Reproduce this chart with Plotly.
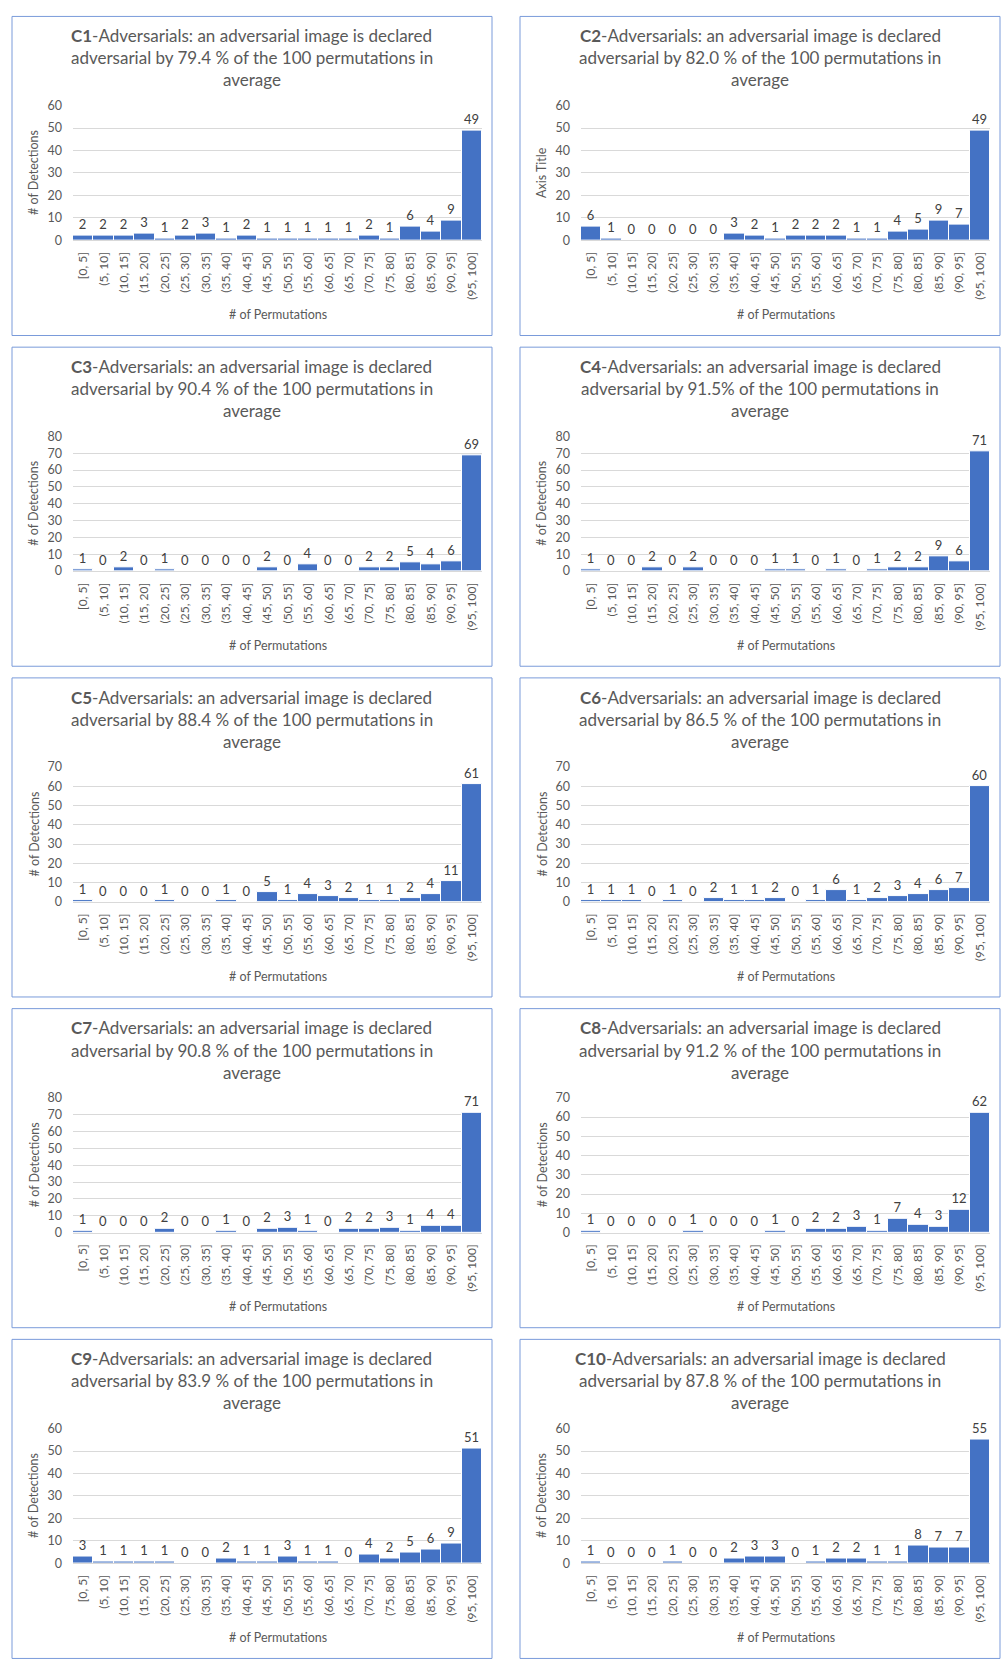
import plotly.graph_objects as go

categories = ["[0, 5]", "(5, 10]", "(10, 15]", "(15, 20]", "(20, 25]", "(25, 30]", "(30, 35]",
              "(35, 40]", "(40, 45]", "(45, 50]", "(50, 55]", "(55, 60]", "(60, 65]", "(65, 70]",
              "(70, 75]", "(75, 80]", "(80, 85]", "(85, 90]", "(90, 95]", "(95, 100]"]

c1 = [2, 2, 2, 3, 1, 2, 3, 1, 2, 1, 1, 1, 1, 1, 2, 1, 6, 4, 9, 49]
c2 = [6, 1, 0, 0, 0, 0, 0, 3, 2, 1, 2, 2, 2, 1, 1, 4, 5, 9, 7, 49]
c3 = [1, 0, 2, 0, 1, 0, 0, 0, 0, 2, 0, 4, 0, 0, 2, 2, 5, 4, 6, 69]
c4 = [1, 0, 0, 2, 0, 2, 0, 0, 0, 1, 1, 0, 1, 0, 1, 2, 2, 9, 6, 71]
c5 = [1, 0, 0, 0, 1, 0, 0, 1, 0, 5, 1, 4, 3, 2, 1, 1, 2, 4, 11, 61]
c6 = [1, 1, 1, 0, 1, 0, 2, 1, 1, 2, 0, 1, 6, 1, 2, 3, 4, 6, 7, 60]
c7 = [1, 0, 0, 0, 2, 0, 0, 1, 0, 2, 3, 1, 0, 2, 2, 3, 1, 4, 4, 71]
c8 = [1, 0, 0, 0, 0, 1, 0, 0, 0, 1, 0, 2, 2, 3, 1, 7, 4, 3, 12, 62]
c9 = [3, 1, 1, 1, 1, 0, 0, 2, 1, 1, 3, 1, 1, 0, 4, 2, 5, 6, 9, 51]
c10 = [1, 0, 0, 0, 1, 0, 0, 2, 3, 3, 0, 1, 2, 2, 1, 1, 8, 7, 7, 55]

series = [c1, c2, c3, c4, c5, c6, c7, c8, c9, c10]
names = ["C1", "C2", "C3", "C4", "C5", "C6", "C7", "C8", "C9", "C10"]
percents = ["79.4 %", "82.0 %", "90.4 %", "91.5%", "88.4 %", "86.5 %", "90.8 %", "91.2 %", "83.9 %", "87.8 %"]
y_max = [60, 60, 80, 80, 70, 70, 80, 70, 60, 60]
y_titles = ["# of Detections", "Axis Title"] + ["# of Detections"] * 8
x_title = "# of Permutations"

W, H = 1002, 1660
FONT = "Lato, 'Noto Sans', sans-serif"
TXT = "#595959"
BAR = "#4472C4"
GRID = "#D9D9D9"
BORDER = "#7A9BDA"

def px(x):
    return x / W

def py(y):
    return 1 - y / H

fig = go.Figure()
shapes = []
annotations = []
layout_axes = {}

for k in range(10):
    row, col = divmod(k, 2)
    L = 12 if col == 0 else 520
    T = 8.5 + row * 333.75
    PW, PH = 480, 322
    x0, x1 = L + 61, L + 470
    y0, y1 = T + 90, T + 226
    xa = "x" if k == 0 else f"x{k+1}"
    ya = "y" if k == 0 else f"y{k+1}"
    xkey = "xaxis" if k == 0 else f"xaxis{k+1}"
    ykey = "yaxis" if k == 0 else f"yaxis{k+1}"

    fig.add_trace(go.Bar(
        x=categories, y=series[k], xaxis=xa, yaxis=ya,
        marker=dict(color=BAR, line=dict(color="white", width=1)),
        text=series[k], texttemplate="%{y}", textposition="outside",
        textfont=dict(family=FONT, size=13, color="#404040"),
        cliponaxis=False, showlegend=False, hoverinfo="x+y",
    ))

    layout_axes[xkey] = dict(
        domain=[px(x0), px(x1)], anchor=ya, type="category",
        tickangle=-90, tickfont=dict(family=FONT, size=12, color=TXT),
        showgrid=False, showline=True, linecolor=GRID, linewidth=1,
        ticks="", ticklabelstandoff=6, fixedrange=True,
    )
    layout_axes[ykey] = dict(
        domain=[py(y1), py(y0)], anchor=xa, range=[0, y_max[k]], dtick=10,
        tickfont=dict(family=FONT, size=12.5, color=TXT),
        showgrid=True, gridcolor=GRID, gridwidth=1, zeroline=False,
        showline=False, ticks="", ticklabelstandoff=10, fixedrange=True,
    )

    # panel border
    shapes.append(dict(type="rect", xref="paper", yref="paper",
                       x0=px(L), x1=px(L + PW), y0=py(T + PH), y1=py(T),
                       line=dict(color=BORDER, width=1), fillcolor="rgba(0,0,0,0)", layer="below"))

    cx = L + PW / 2
    title_lines = [f"<b>{names[k]}</b>-Adversarials: an adversarial image is declared",
                   f"adversarial by {percents[k]} of the 100 permutations in",
                   "average"]
    for i, line in enumerate(title_lines):
        annotations.append(dict(xref="paper", yref="paper", x=px(cx), y=py(T + 19.5 + i * 22.3),
                                text=line, showarrow=False, xanchor="center", yanchor="middle",
                                font=dict(family=FONT, size=17, color=TXT)))
    annotations.append(dict(xref="paper", yref="paper", x=px(L + 22), y=py((y0 + y1) / 2),
                            text=y_titles[k], textangle=-90, showarrow=False,
                            xanchor="center", yanchor="middle",
                            font=dict(family=FONT, size=12.5, color=TXT)))
    annotations.append(dict(xref="paper", yref="paper", x=px((x0 + x1) / 2), y=py(T + 301),
                            text=x_title, showarrow=False, xanchor="center", yanchor="middle",
                            font=dict(family=FONT, size=12.5, color=TXT)))

fig.update_layout(
    width=W, height=H, margin=dict(l=0, r=0, t=0, b=0),
    paper_bgcolor="white", plot_bgcolor="white",
    bargap=0, shapes=shapes, annotations=annotations,
    font=dict(family=FONT, color=TXT),
    **layout_axes,
)

fig.write_html(
    "out.html",
    config={"displayModeBar": False},
    post_script="document.body.style.margin='0';document.body.style.overflow='hidden';",
)
